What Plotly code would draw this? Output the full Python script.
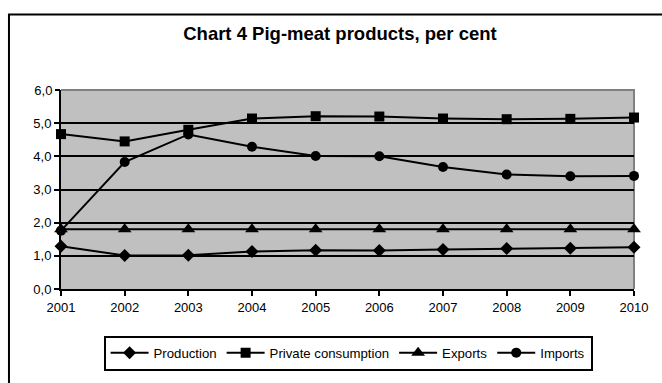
import plotly.graph_objects as go

years = [2001, 2002, 2003, 2004, 2005, 2006, 2007, 2008, 2009, 2010]
production = [1.29, 1.01, 1.02, 1.13, 1.17, 1.16, 1.19, 1.22, 1.23, 1.26]
private_consumption = [4.67, 4.45, 4.80, 5.14, 5.21, 5.20, 5.14, 5.12, 5.13, 5.17]
exports = [1.80, 1.80, 1.80, 1.80, 1.80, 1.80, 1.80, 1.80, 1.80, 1.80]
imports = [1.76, 3.83, 4.66, 4.29, 4.01, 4.00, 3.68, 3.45, 3.40, 3.41]

grid_ticks = [0, 1, 2, 3, 4, 5]
top_tick = [6]
x_labels = [str(y) for y in years]

FONT = "Liberation Sans"

series = [
    ("Production", production, "diamond", 10),
    ("Private consumption", private_consumption, "square", 10),
    ("Exports", exports, "triangle-up", 12),
    ("Imports", imports, "circle", 10),
]

fig = go.Figure()
for name, vals, sym, size in series:
    fig.add_trace(go.Scatter(
        x=years, y=vals, name=name, mode="lines+markers",
        line=dict(color="black", width=2),
        marker=dict(symbol=sym, size=size, color="black"),
        cliponaxis=False,
    ))
# invisible helper trace so the second y axis (top "6,0" label) is rendered
fig.add_trace(go.Scatter(x=[years[0]], y=[top_tick[0]], yaxis="y2",
                         mode="markers", marker=dict(opacity=0),
                         showlegend=False, hoverinfo="skip"))

fig.update_layout(
    width=662, height=383,
    margin=dict(l=61, r=28, t=90, b=85),
    paper_bgcolor="white",
    plot_bgcolor="#c0c0c0",
    separators=", ",
    font=dict(family=FONT, size=13, color="black"),
    title=dict(
        text="<b>Chart 4 Pig-meat products, per cent</b>",
        x=340 / 662, xanchor="center", xref="container",
        y=1 - 34 / 383, yanchor="middle", yref="container",
        font=dict(family=FONT, size=18.5, color="black"),
    ),
    showlegend=True,
    legend=dict(
        orientation="h",
        x=0.501, xanchor="center",
        y=-0.322, yanchor="middle",
        bgcolor="white", bordercolor="black", borderwidth=2,
        font=dict(family=FONT, size=13.2, color="black"),
        traceorder="normal",
        itemwidth=38,
    ),
    xaxis=dict(
        range=[years[0], years[-1]],
        tickvals=years, ticktext=x_labels,
        showgrid=False, zeroline=False,
        showline=True, linecolor="black", linewidth=2,
        ticks="outside", ticklen=5, tickwidth=2, tickcolor="black",
        tickfont=dict(family=FONT, size=13),
    ),
    yaxis=dict(
        range=[0, 6],
        tickvals=grid_ticks, tickformat=".1f",
        showgrid=True, gridcolor="black", gridwidth=2,
        zeroline=False,
        showline=True, linecolor="black", linewidth=2,
        ticks="outside", ticklen=5, tickwidth=2, tickcolor="black",
        tickfont=dict(family=FONT, size=13),
    ),
    yaxis2=dict(
        range=[0, 6], overlaying="y", side="left",
        tickvals=top_tick, tickformat=".1f",
        showgrid=False, zeroline=False, showline=False,
        ticks="outside", ticklen=5, tickwidth=2, tickcolor="black",
        tickfont=dict(family=FONT, size=13),
    ),
    shapes=[
        # gray plot-area border on top and right
        dict(type="path", xref="paper", yref="paper",
             path="M 0,1 L 1,1 L 1,0", line=dict(color="#808080", width=2),
             layer="below"),
        # outer chart frame (left and top edges visible)
        dict(type="path", xref="paper", yref="paper",
             path="M -0.0908,-0.6 L -0.0908,1.3798 L 1.2,1.3798",
             line=dict(color="black", width=2)),
    ],
)

fig.write_html("out.html")
